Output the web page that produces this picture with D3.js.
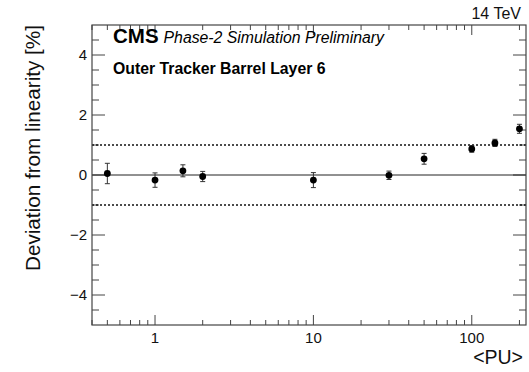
<!DOCTYPE html>
<html>
<head>
<meta charset="utf-8">
<script src="https://cdn.jsdelivr.net/npm/d3@7"></script>
<style>
  html, body { margin: 0; padding: 0; background: #fff; }
  svg { display: block; font-family: "Liberation Sans", Arial, Helvetica, sans-serif; }
</style>
</head>
<body>
<svg id="chart" width="529" height="372"></svg>
<script>
// Mean pile-up values and the measured deviation from linearity (%)
const pileup = [0.5, 1, 1.5, 2, 10, 30, 50, 100, 140, 200];
const deviation = [0.05, -0.17, 0.14, -0.05, -0.17, -0.01, 0.54, 0.87, 1.07, 1.54];
const deviationErr = [0.34, 0.24, 0.20, 0.17, 0.25, 0.14, 0.18, 0.11, 0.12, 0.15];

// Reference band (+/- 1 %) and axis labelling
const bandLimits = [1, -1];
const xTickValues = [1, 10, 100];
const yTickValues = [-4, -2, 0, 2, 4];

const frame = { left: 92, right: 526, top: 25, bottom: 325 };

const svg = d3.select("#chart");

const x = d3.scaleLog().domain([0.4, 220]).range([frame.left, frame.right]);
const y = d3.scaleLinear().domain([-5, 5]).range([frame.bottom, frame.top]);

const axisColor = "#444";

// minor ticks: log decades on x, half-units on y
const xMinor = [];
for (let dec = 0.1; dec <= 100; dec *= 10) {
  for (let k = 1; k <= 9; k++) {
    const v = +(k * dec).toPrecision(3);
    if (v >= 0.4 && v <= 220 && !xTickValues.includes(v)) xMinor.push(v);
  }
}
const yMinor = d3.range(-4.5, 5, 0.5).filter(v => !yTickValues.includes(v) && v > -5 && v < 5);

const g = svg.append("g");

// tick marks on all four sides, pointing into the frame
const ticks = g.append("g").attr("stroke", axisColor).attr("stroke-width", 1);
function xTicks(values, len) {
  values.forEach(v => {
    const px = x(v);
    ticks.append("line").attr("x1", px).attr("x2", px).attr("y1", frame.bottom).attr("y2", frame.bottom - len);
    ticks.append("line").attr("x1", px).attr("x2", px).attr("y1", frame.top).attr("y2", frame.top + len);
  });
}
function yTicks(values, len) {
  values.forEach(v => {
    const py = y(v);
    ticks.append("line").attr("y1", py).attr("y2", py).attr("x1", frame.left).attr("x2", frame.left + len);
    ticks.append("line").attr("y1", py).attr("y2", py).attr("x1", frame.right).attr("x2", frame.right - len);
  });
}
xTicks(xTickValues, 10);
xTicks(xMinor, 5);
yTicks(yTickValues, 13);
yTicks(yMinor, 7);

// zero line
g.append("line")
  .attr("x1", frame.left).attr("x2", frame.right)
  .attr("y1", y(0)).attr("y2", y(0))
  .attr("stroke", "#222").attr("stroke-width", 1);

// dotted +/- 1 % lines
g.selectAll("line.band").data(bandLimits).join("line")
  .attr("class", "band")
  .attr("x1", frame.left).attr("x2", frame.right)
  .attr("y1", d => y(d)).attr("y2", d => y(d))
  .attr("stroke", "#111").attr("stroke-width", 1.5)
  .attr("stroke-dasharray", "2,2");

// frame
g.append("rect")
  .attr("x", frame.left).attr("y", frame.top)
  .attr("width", frame.right - frame.left).attr("height", frame.bottom - frame.top)
  .attr("fill", "none").attr("stroke", axisColor).attr("stroke-width", 1.2);

// tick labels
g.selectAll("text.xt").data(xTickValues).join("text")
  .attr("class", "xt")
  .attr("x", d => x(d)).attr("y", 343)
  .attr("text-anchor", "middle")
  .attr("font-size", 15).attr("fill", "#111")
  .text(d => d);

g.selectAll("text.yt").data(yTickValues).join("text")
  .attr("class", "yt")
  .attr("x", 87).attr("y", d => y(d))
  .attr("dy", "0.36em")
  .attr("text-anchor", "end")
  .attr("font-size", 15).attr("fill", "#111")
  .text(d => d < 0 ? "\u2212" + Math.abs(d) : d);

// axis titles
g.append("text")
  .attr("x", 523).attr("y", 364)
  .attr("text-anchor", "end")
  .attr("font-size", 19.5).attr("fill", "#111")
  .text("<PU>");

g.append("text")
  .attr("transform", `translate(39.5, ${frame.top}) rotate(-90)`)
  .attr("text-anchor", "end")
  .attr("font-size", 20.7).attr("fill", "#111")
  .text("Deviation from linearity [%]");

// header texts
g.append("text")
  .attr("x", 521).attr("y", 18.5)
  .attr("text-anchor", "end")
  .attr("font-size", 16).attr("fill", "#111")
  .text("14 TeV");

const cms = g.append("text").attr("x", 113).attr("y", 42.5).attr("fill", "#000");
cms.append("tspan").attr("font-size", 20.5).attr("font-weight", "bold").text("CMS");
cms.append("tspan").attr("dx", 5).attr("font-size", 15.8).attr("font-style", "italic").text("Phase-2 Simulation Preliminary");

g.append("text")
  .attr("x", 113).attr("y", 74)
  .attr("font-size", 15.8).attr("font-weight", "bold").attr("fill", "#000")
  .text("Outer Tracker Barrel Layer 6");

// data points with error bars
const pts = pileup.map((p, i) => ({ p, v: deviation[i], e: deviationErr[i] }));
const pg = g.append("g");
const cap = 2.5;
pg.selectAll("line.err").data(pts).join("line")
  .attr("class", "err")
  .attr("x1", d => x(d.p)).attr("x2", d => x(d.p))
  .attr("y1", d => y(d.v + d.e)).attr("y2", d => y(d.v - d.e))
  .attr("stroke", "#333").attr("stroke-width", 1);
pg.selectAll("line.capT").data(pts).join("line")
  .attr("class", "capT")
  .attr("x1", d => x(d.p) - cap).attr("x2", d => x(d.p) + cap)
  .attr("y1", d => y(d.v + d.e)).attr("y2", d => y(d.v + d.e))
  .attr("stroke", "#333").attr("stroke-width", 1);
pg.selectAll("line.capB").data(pts).join("line")
  .attr("class", "capB")
  .attr("x1", d => x(d.p) - cap).attr("x2", d => x(d.p) + cap)
  .attr("y1", d => y(d.v - d.e)).attr("y2", d => y(d.v - d.e))
  .attr("stroke", "#333").attr("stroke-width", 1);
pg.selectAll("circle").data(pts).join("circle")
  .attr("cx", d => x(d.p)).attr("cy", d => y(d.v))
  .attr("r", 3.4).attr("fill", "#000");
</script>
</body>
</html>
